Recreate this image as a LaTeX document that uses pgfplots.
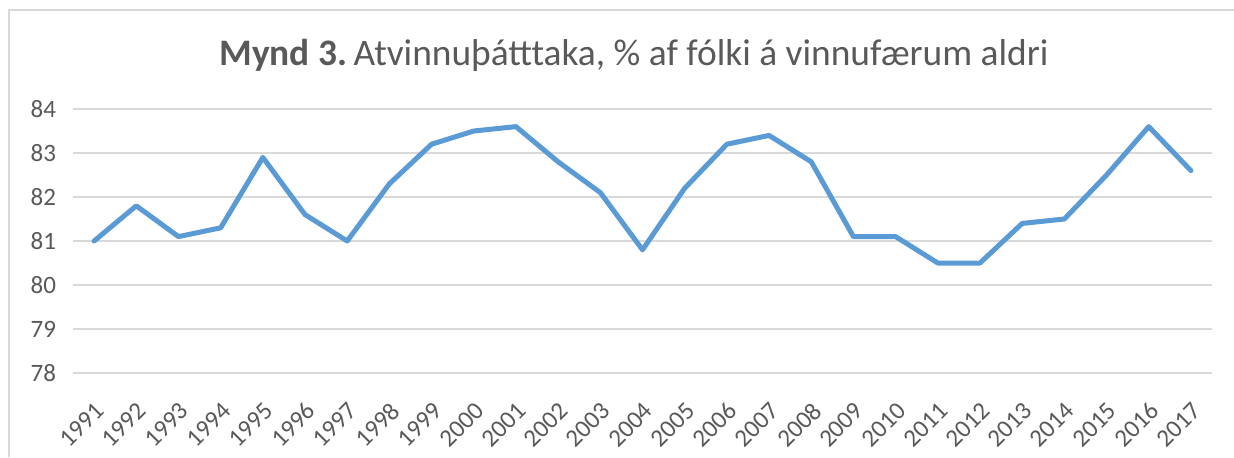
\documentclass[border=0pt]{standalone}
\usepackage{pgfplots}
\pgfplotsset{compat=1.18}
\usepackage{fontspec}
\setmainfont{Carlito}
\definecolor{txtgray}{HTML}{595959}
\definecolor{gridgray}{HTML}{D9D9D9}
\definecolor{lineblue}{HTML}{5B9BD5}
\begin{document}
\begin{tikzpicture}
\useasboundingbox (0pt,0pt) rectangle (617pt,228.5pt);
\fill[white] (0pt,0pt) rectangle (617pt,228.5pt);
\draw[gridgray, line width=1pt] (4.5pt,0pt) -- (4.5pt,223.5pt) -- (617pt,223.5pt);
\node[anchor=base, text=txtgray, font=\fontsize{18.7}{21}\selectfont, inner sep=0pt] at (317pt,196pt) {\textbf{Mynd 3.}\,Atvinnuþátttaka, \% af fólki á vinnufærum aldri};
\begin{axis}[
  at={(36.5pt,42pt)}, anchor=south west,
  scale only axis, width=569.5pt, height=132pt,
  xmin=1990.5, xmax=2017.5, ymin=78, ymax=84,
  xtick={1991,...,2017}, ytick={78,...,84},
  /pgf/number format/1000 sep={},
  /pgf/number format/assume math mode=true,
  axis line style={draw=none},
  major tick length=0pt,
  ymajorgrids, grid style={gridgray, line width=0.8pt},
  tick label style={text=txtgray, font=\fontsize{12.5}{14}\selectfont},
  yticklabel style={xshift=-5pt},
  xticklabel style={xshift=0pt, yshift=-13pt, rotate=45, anchor=north east, inner sep=0.5pt},
  clip=false,
]
\addplot[lineblue, line width=2.5pt, line join=round, line cap=round] coordinates {
(1991,81.0) (1992,81.8) (1993,81.1) (1994,81.3) (1995,82.9) (1996,81.6) (1997,81.0)
(1998,82.3) (1999,83.2) (2000,83.5) (2001,83.6) (2002,82.8) (2003,82.1) (2004,80.8)
(2005,82.2) (2006,83.2) (2007,83.4) (2008,82.8) (2009,81.1) (2010,81.1) (2011,80.5)
(2012,80.5) (2013,81.4) (2014,81.5) (2015,82.5) (2016,83.6) (2017,82.6)
};
\end{axis}
\end{tikzpicture}
\end{document}
